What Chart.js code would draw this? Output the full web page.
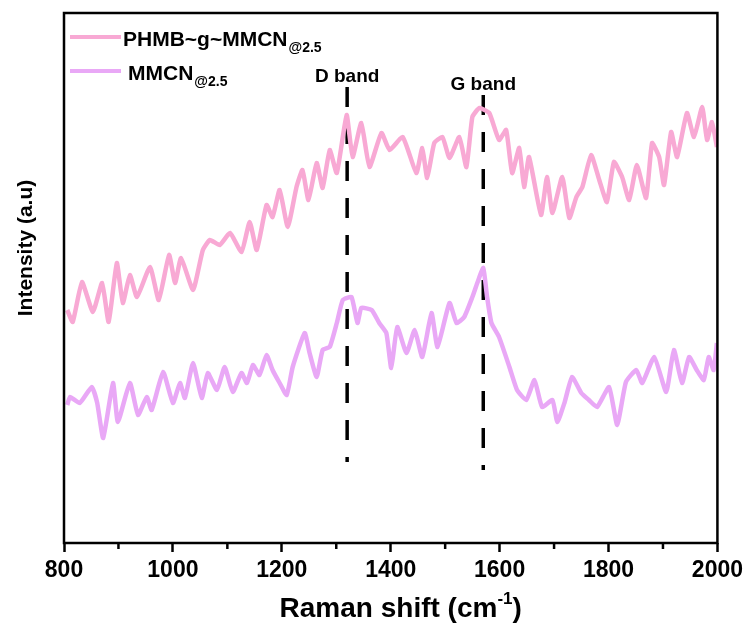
<!DOCTYPE html>
<html>
<head>
<meta charset="utf-8">
<script src="https://cdn.jsdelivr.net/npm/chart.js@4.4.0/dist/chart.umd.min.js"></script>
<style>
  html, body { margin: 0; padding: 0; background: #fff; }
</style>
</head>
<body>
<canvas id="raman" width="748" height="626"></canvas>
<script>
// values (intensity in arbitrary units)
const phmbShift = [806, 816, 833, 853, 870, 882, 897, 908, 921, 934, 958, 974, 993, 1004, 1015, 1037,
  1055, 1068, 1086, 1105, 1126, 1141, 1154, 1172, 1183, 1196, 1211, 1227, 1238, 1249, 1264, 1275,
  1288, 1301, 1319, 1330, 1346, 1361, 1383, 1398, 1422, 1447, 1458, 1467, 1480, 1495, 1508, 1526,
  1539, 1550, 1563, 1581, 1599, 1612, 1623, 1636, 1645, 1654, 1676, 1687, 1697, 1715, 1728, 1741,
  1752, 1768, 1783, 1797, 1810, 1825, 1838, 1852, 1869, 1880, 1893, 1902, 1915, 1926, 1944, 1957,
  1972, 1981, 1990, 1999];
const phmbIntensity = [233, 221, 261, 231, 260, 221, 280, 240, 268, 246, 276, 243, 288, 260, 285, 253,
  293, 303, 298, 310, 291, 321, 293, 338, 326, 353, 316, 356, 373, 343, 380, 355,
  393, 370, 428, 386, 420, 376, 410, 393, 406, 370, 395, 365, 400, 406, 385, 406,
  376, 426, 435, 430, 403, 413, 370, 395, 356, 386, 328, 366, 330, 366, 325, 346,
  356, 388, 363, 341, 381, 366, 343, 378, 345, 400, 386, 358, 411, 386, 430, 406,
  436, 403, 421, 396];

const mmcnShift = [806, 811, 829, 851, 861, 872, 890, 899, 921, 936, 952, 961, 982, 1000, 1013, 1022,
  1037, 1053, 1064, 1081, 1095, 1110, 1126, 1136, 1147, 1159, 1172, 1183, 1196, 1209, 1220, 1242,
  1251, 1264, 1275, 1288, 1301, 1312, 1328, 1339, 1346, 1365, 1379, 1392, 1401, 1412, 1429, 1444,
  1458, 1475, 1486, 1508, 1521, 1535, 1550, 1559, 1570, 1577, 1585, 1599, 1618, 1632, 1649, 1664,
  1678, 1697, 1706, 1719, 1733, 1750, 1764, 1779, 1801, 1816, 1832, 1851, 1862, 1884, 1906, 1920,
  1935, 1948, 1962, 1975, 1984, 1993, 1999];
const mmcnIntensity = [138, 146, 140, 156, 140, 105, 160, 121, 160, 128, 146, 133, 171, 140, 160, 145,
  180, 145, 170, 153, 176, 151, 170, 160, 178, 168, 188, 173, 160, 148, 176, 210,
  190, 166, 193, 196, 220, 243, 246, 220, 235, 233, 220, 210, 175, 216, 190, 213,
  186, 230, 196, 240, 220, 226, 246, 260, 275, 246, 220, 206, 176, 153, 143, 163,
  136, 143, 121, 140, 166, 150, 143, 136, 156, 118, 161, 173, 160, 186, 151, 193,
  160, 186, 173, 163, 186, 173, 200];

const bandShift = [1320, 1570];
const bandNames = ["D band", "G band"];
const bandTop = [456, 448];
const bandBottom = [81, 73];

const xMajorTicks = [800, 1000, 1200, 1400, 1600, 1800, 2000];
const xMinorTicks = [900, 1100, 1300, 1500, 1700, 1900];

const seriesNames = ["PHMB~g~MMCN", "MMCN"];
const seriesSub = "@2.5";
const pink = "#f8a9d4";
const violet = "#e9a8f6";

const FONT = '"Liberation Sans", Arial, sans-serif';

function toPoints(xs, ys) {
  return xs.map((x, i) => ({ x: x, y: ys[i] }));
}

const bandSets = bandShift.map((b, i) => ({
  data: [{ x: b, y: bandTop[i] }, { x: b, y: bandBottom[i] }],
  borderColor: "#000",
  borderWidth: 3.5,
  borderDash: [20, 17],
  pointRadius: 0,
  tension: 0
}));

const decor = {
  id: "decor",
  afterDraw(chart) {
    const ctx = chart.ctx;
    const a = chart.chartArea;
    const xs = chart.scales.x;
    const ys = chart.scales.y;
    ctx.save();
    ctx.strokeStyle = "#000";
    ctx.fillStyle = "#000";
    // frame
    ctx.lineWidth = 2.5;
    ctx.strokeRect(a.left, a.top, a.right - a.left, a.bottom - a.top);
    // minor ticks
    xMinorTicks.forEach(v => {
      const px = xs.getPixelForValue(v);
      ctx.beginPath();
      ctx.moveTo(px, a.bottom);
      ctx.lineTo(px, a.bottom + 6);
      ctx.stroke();
    });
    // band labels
    ctx.font = "bold 19px " + FONT;
    ctx.textAlign = "center";
    ctx.textBaseline = "alphabetic";
    bandShift.forEach((b, i) => {
      ctx.fillText(bandNames[i], xs.getPixelForValue(b), ys.getPixelForValue(bandTop[i]) - 5);
    });
    // legend
    const rows = [
      { color: pink, name: seriesNames[0], y: 37, tx: 123 },
      { color: violet, name: seriesNames[1], y: 71, tx: 128 }
    ];
    ctx.textAlign = "left";
    rows.forEach(r => {
      ctx.strokeStyle = r.color;
      ctx.lineWidth = 4;
      ctx.beginPath();
      ctx.moveTo(a.left + 6, r.y);
      ctx.lineTo(a.left + 57, r.y);
      ctx.stroke();
      ctx.font = "bold 21px " + FONT;
      ctx.fillText(r.name, r.tx, r.y + 9);
      const w = ctx.measureText(r.name).width;
      ctx.font = "bold 14px " + FONT;
      ctx.fillText(seriesSub, r.tx + w + 1, r.y + 15);
    });
    // x title with superscript
    const t1 = "Raman shift (cm";
    const sup = "-1";
    const t2 = ")";
    ctx.font = "bold 28px " + FONT;
    const w1 = ctx.measureText(t1).width;
    const w3 = ctx.measureText(t2).width;
    ctx.font = "bold 17px " + FONT;
    const w2 = ctx.measureText(sup).width;
    const cx = (a.left + a.right) / 2 + 10;
    const x0 = cx - (w1 + w2 + w3) / 2;
    const base = 617;
    ctx.font = "bold 28px " + FONT;
    ctx.fillText(t1, x0, base);
    ctx.font = "bold 17px " + FONT;
    ctx.fillText(sup, x0 + w1, base - 13);
    ctx.font = "bold 28px " + FONT;
    ctx.fillText(t2, x0 + w1 + w2, base);
    // y title
    ctx.translate(32, 248);
    ctx.rotate(-Math.PI / 2);
    ctx.font = "bold 21px " + FONT;
    ctx.textAlign = "center";
    ctx.fillText("Intensity (a.u)", 0, 0);
    ctx.restore();
  }
};

new Chart(document.getElementById("raman"), {
  type: "line",
  data: {
    datasets: [
      {
        data: toPoints(phmbShift, phmbIntensity),
        borderColor: pink,
        borderWidth: 4.5,
        pointRadius: 0,
        tension: 0.15
      },
      {
        data: toPoints(mmcnShift, mmcnIntensity),
        borderColor: violet,
        borderWidth: 4.5,
        pointRadius: 0,
        tension: 0.15
      }
    ].concat(bandSets)
  },
  options: {
    responsive: false,
    animation: false,
    devicePixelRatio: 1,
    layout: { padding: { top: 13, right: 23, left: 0, bottom: 0 } },
    plugins: { legend: { display: false }, tooltip: { enabled: false } },
    scales: {
      x: {
        type: "linear",
        min: 800,
        max: 2000,
        afterBuildTicks: s => { s.ticks = xMajorTicks.map(v => ({ value: v })); },
        afterFit: s => { s.height = 83; },
        ticks: {
          color: "#000",
          padding: 5,
          maxRotation: 0,
          autoSkip: false,
          callback: v => String(v),
          font: { family: FONT, size: 23, weight: "bold" }
        },
        grid: { drawOnChartArea: false, tickLength: 9, tickWidth: 2.5, tickColor: "#000" },
        border: { display: false }
      },
      y: {
        min: 0,
        max: 530,
        afterFit: s => { s.width = 64; },
        ticks: { display: false },
        grid: { display: false },
        border: { display: false }
      }
    }
  },
  plugins: [decor]
});
</script>
</body>
</html>
